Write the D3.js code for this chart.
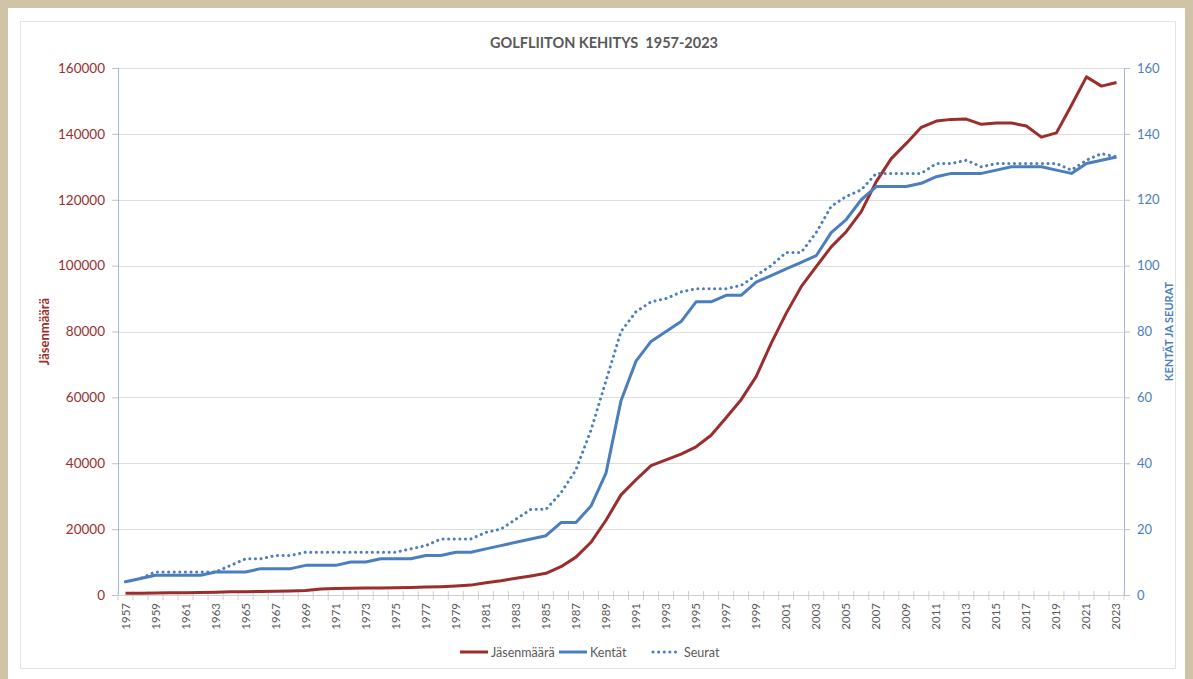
<!DOCTYPE html>
<html>
<head>
<meta charset="utf-8">
<script src="https://cdn.jsdelivr.net/npm/d3@7/dist/d3.min.js"></script>
<style>
  html, body { margin: 0; padding: 0; background: #cfc5a6; }
  svg { display: block; }
  text { font-family: Lato, "Open Sans", sans-serif; }
</style>
</head>
<body>
<svg id="chart" width="1193" height="679"></svg>
<script>
const years = d3.range(1957, 2024);
const jasenmaara = [
  500, 550, 600, 650, 700, 750, 850, 950, 1000, 1100,
  1150, 1250, 1400, 1800, 2000, 2050, 2100, 2150, 2200, 2300,
  2400, 2500, 2700, 3000, 3700, 4300, 5100, 5800, 6600, 8600,
  11500, 16000, 22700, 30400, 35000, 39300, 41000, 42800, 45000, 48500,
  53800, 59300, 66300, 76400, 85500, 93600, 99700, 105700, 110300, 116400,
  125500, 132500, 137100, 142000, 143900, 144400, 144500, 142900, 143300, 143300,
  142400, 139000, 140300, 148700, 157300, 154500, 155600
];
const kentat = [
  4, 5, 6, 6, 6, 6, 7, 7, 7, 8,
  8, 8, 9, 9, 9, 10, 10, 11, 11, 11,
  12, 12, 13, 13, 14, 15, 16, 17, 18, 22,
  22, 27, 37, 59, 71, 77, 80, 83, 89, 89,
  91, 91, 95, 97, 99, 101, 103, 110, 114, 120,
  124, 124, 124, 125, 127, 128, 128, 128, 129, 130,
  130, 130, 129, 128, 131, 132, 133
];
const seurat = [
  4, 5, 7, 7, 7, 7, 7, 9, 11, 11,
  12, 12, 13, 13, 13, 13, 13, 13, 13, 14,
  15, 17, 17, 17, 19, 20, 23, 26, 26, 31,
  38, 50, 65, 80, 86, 89, 90, 92, 93, 93,
  93, 94, 97, 100, 104, 104, 110, 118, 121, 123,
  128, 128, 128, 128, 131, 131, 132, 130, 131, 131,
  131, 131, 131, 129, 132, 134, 133
];
const leftTicks = [0, 20000, 40000, 60000, 80000, 100000, 120000, 140000, 160000];
const rightTicks = [0, 20, 40, 60, 80, 100, 120, 140, 160];
const title = "GOLFLIITON KEHITYS  1957-2023";
const seriesNames = ["Jäsenmäärä", "Kentät", "Seurat"];

const RED = "#9b2d2c";
const BLUE = "#4a7ebf";
const GRAY = "#595959";

const svg = d3.select("#chart");

// white panel
svg.append("rect").attr("x", 8).attr("y", 8).attr("width", 1177).attr("height", 671).attr("fill", "#ffffff");
svg.append("rect").attr("x", 20.5).attr("y", 21.5).attr("width", 1155).attr("height", 647)
  .attr("fill", "#ffffff").attr("stroke", "#e3e3e3").attr("stroke-width", 1);

const L = 118, R = 1124, T = 68, B = 595;
const x = d3.scaleBand().domain(years).range([L, R]);
const cx = d => x(d) + x.bandwidth() / 2;
const yL = d3.scaleLinear().domain([0, 160000]).range([B, T]);
const yR = d3.scaleLinear().domain([0, 160]).range([B, T]);

// gridlines
svg.append("g").selectAll("line").data(leftTicks.slice(1)).join("line")
  .attr("x1", L).attr("x2", R)
  .attr("y1", d => Math.round(yL(d)) + 0.5).attr("y2", d => Math.round(yL(d)) + 0.5)
  .attr("stroke", "#dedede").attr("stroke-width", 1);

// title
svg.append("text").attr("x", 604).attr("y", 48).attr("text-anchor", "middle")
  .attr("font-size", 14.5).attr("font-weight", "bold").attr("fill", GRAY)
  .attr("xml:space", "preserve").text(title);

// left axis
const gL = svg.append("g").attr("transform", `translate(${L},0)`)
  .call(d3.axisLeft(yL).tickValues(leftTicks).tickFormat(d3.format("d")).tickSize(6).tickPadding(7));
gL.select(".domain").attr("stroke", "#9fb8da");
gL.selectAll(".tick line").attr("stroke", "#bfbfbf");
gL.selectAll(".tick text").attr("fill", RED).attr("font-size", 13.5).attr("font-family", "Lato, sans-serif");

// right axis
const gR = svg.append("g").attr("transform", `translate(${R},0)`)
  .call(d3.axisRight(yR).tickValues(rightTicks).tickSize(6).tickPadding(7));
gR.select(".domain").attr("stroke", "#9fb8da");
gR.selectAll(".tick line").attr("stroke", "#bfbfbf");
gR.selectAll(".tick text").attr("fill", BLUE).attr("font-size", 13).attr("font-family", "Lato, sans-serif");

// x axis
const gX = svg.append("g");
gX.append("line").attr("x1", L).attr("x2", R).attr("y1", B + 0.5).attr("y2", B + 0.5).attr("stroke", "#d0d0d0");
gX.selectAll("line.tk").data(years.concat([2024])).join("line").attr("class", "tk")
  .attr("x1", d => d === 2024 ? R : x(d)).attr("x2", d => d === 2024 ? R : x(d))
  .attr("y1", B - 4).attr("y2", B + 5).attr("stroke", "#cfcfcf");
gX.selectAll("text").data(years.filter((d, i) => i % 2 === 0)).join("text")
  .attr("transform", d => `translate(${cx(d) + 4},${B + 8}) rotate(-90)`)
  .attr("text-anchor", "end").attr("font-size", 11.5).attr("fill", GRAY)
  .text(d => d);

// axis titles
svg.append("text").attr("transform", `translate(49,${(T + B) / 2}) rotate(-90)`)
  .attr("text-anchor", "middle").attr("font-size", 13).attr("font-weight", "bold").attr("fill", RED)
  .text("Jäsenmäärä");
svg.append("text").attr("transform", `translate(1173,${(T + B) / 2}) rotate(-90)`)
  .attr("text-anchor", "middle").attr("font-size", 11).attr("font-weight", "bold").attr("fill", BLUE)
  .text("KENTÄT JA SEURAT");

// lines
const lineL = d3.line().x((d, i) => cx(years[i])).y(d => yL(d));
const lineR = d3.line().x((d, i) => cx(years[i])).y(d => yR(d));

svg.append("path").datum(jasenmaara).attr("d", lineL).attr("fill", "none")
  .attr("stroke", RED).attr("stroke-width", 3).attr("stroke-linejoin", "round");
svg.append("path").datum(kentat).attr("d", lineR).attr("fill", "none")
  .attr("stroke", BLUE).attr("stroke-width", 3).attr("stroke-linejoin", "round");
svg.append("path").datum(seurat).attr("d", lineR).attr("fill", "none")
  .attr("stroke", BLUE).attr("stroke-width", 3).attr("stroke-linecap", "round")
  .attr("stroke-dasharray", "0.1,5.5");

// legend
const legend = [
  { name: seriesNames[0], color: RED, dash: null, x: 460 },
  { name: seriesNames[1], color: BLUE, dash: null, x: 559 },
  { name: seriesNames[2], color: BLUE, dash: "0.1,5.5", x: 653 }
];
const lg = svg.append("g");
legend.forEach(l => {
  lg.append("line").attr("x1", l.x).attr("x2", l.x + 28).attr("y1", 652).attr("y2", 652)
    .attr("stroke", l.color).attr("stroke-width", 3)
    .attr("stroke-dasharray", l.dash).attr("stroke-linecap", l.dash ? "round" : "butt");
  lg.append("text").attr("x", l.x + 31).attr("y", 657).attr("font-size", 12.5).attr("fill", GRAY).text(l.name);
});
</script>
</body>
</html>
